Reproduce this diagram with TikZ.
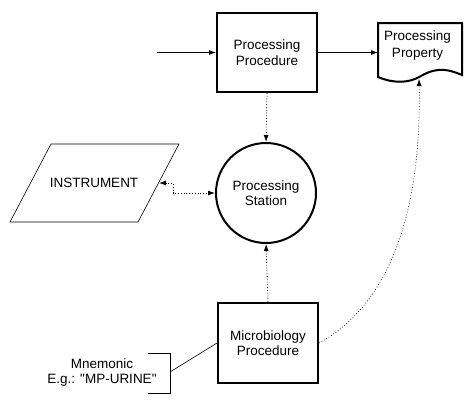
\documentclass[tikz,border=0pt]{standalone}
\usepackage{fontspec}
\setmainfont{Liberation Sans}[Ligatures=TeXOff]
\usetikzlibrary{arrows.meta}
\begin{document}
\begin{tikzpicture}[x=1pt,y=-1pt,
  every node/.style={font=\fontsize{13.5}{15.5}\selectfont,align=center,inner sep=0pt},
  box/.style={draw,line width=2pt,minimum width=100pt,minimum height=79pt},
  station/.style={draw,circle,line width=2pt,minimum size=100pt},
  shapeline/.style={line width=2pt,line join=miter},
  conn/.style={line width=0.8pt,-{Latex[length=7pt,width=5pt]}},
  dotconn/.style={line width=0.8pt,dotted,-{Latex[length=7pt,width=5pt]}},
  dotboth/.style={line width=0.8pt,dotted,{Latex[length=7pt,width=5pt]}-{Latex[length=7pt,width=5pt]}},
  thinline/.style={line width=0.6pt}]
\useasboundingbox (0,0) rectangle (468,410);

% nodes
\node[box] (pp) at (267,52.5) {Processing\\Procedure};
\node[station] (st) at (266,193) {Processing\\Station};
\node[box,minimum height=80pt] (mp) at (268,343) {Microbiology\\Procedure};

% document shape
\draw[shapeline] (378,77) -- (378,23) -- (462,23) -- (462,75)
  .. controls (450,70) and (438,66) .. (421,76)
  .. controls (408,84) and (392,83) .. (378,77) -- cycle;
\node (doc) at (417.5,45.5) {Processing\\[1pt]Property};
\coordinate (docL) at (378,53);
\coordinate (docB) at (419,79);

% instrument parallelogram
\draw[thinline] (51,144) -- (179,144) -- (138,222) -- (10,222) -- cycle;
\node (inst) at (94,183) {INSTRUMENT};
\coordinate (instR) at (159,183);

% mnemonic bracket
\draw[thinline] (147.5,353) -- (170,353) -- (170,393) -- (147.5,393);
\coordinate (brk) at (170,372);
\node (mn) at (102,372.5) {Mnemonic\\E.g.: "MP-URINE"};

% input
\coordinate (inStart) at (157,52.5);

% connectors
\draw[conn] (inStart) -- (pp.west);
\draw[conn] (pp.east) -- (pp.east -| docL);
\draw[dotconn] (pp.south) -- (st.north);
\draw[dotconn] (mp.north) -- (st.south);
\draw[dotboth] (instR) -- ++(14,0) |- (st.west);
\draw[dotconn,line width=0.6pt] (mp.east) .. controls (380,310) and (422,230) .. (docB);
\draw[thinline] (brk) -- (mp.west);
\end{tikzpicture}
\end{document}
